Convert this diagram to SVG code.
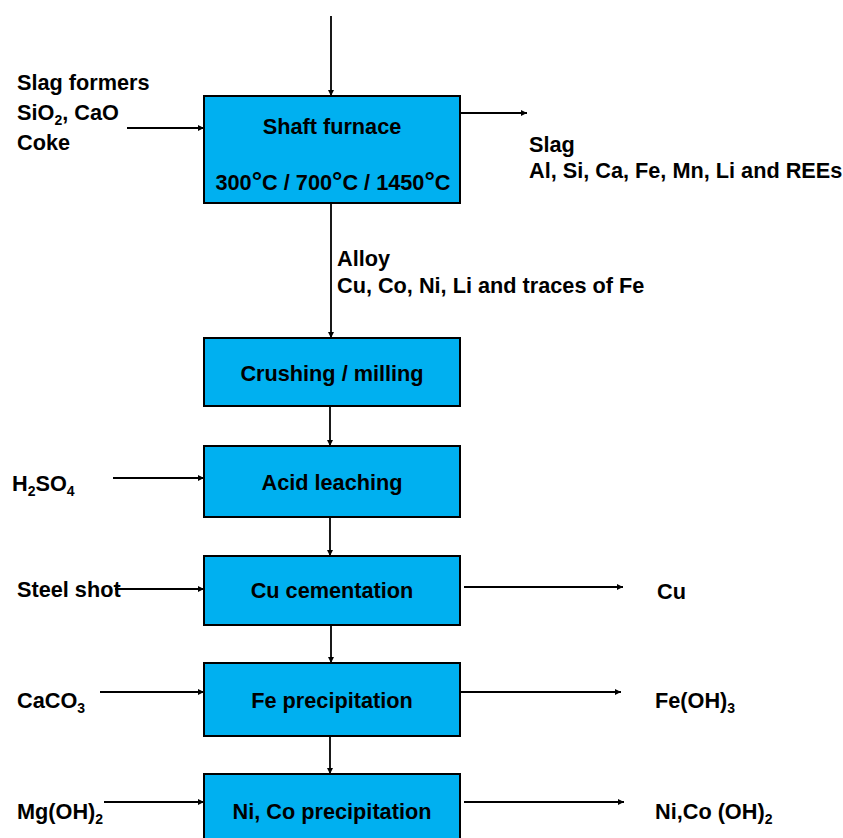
<svg xmlns="http://www.w3.org/2000/svg" width="843" height="838" viewBox="0 0 843 838">
<defs>
<marker id="ah" viewBox="0 0 10 10" refX="10" refY="5" markerWidth="9" markerHeight="6" markerUnits="userSpaceOnUse" orient="auto">
<path d="M0,0 L10,5 L0,10 z" fill="#000"/>
</marker>
<style>
text{font-family:"Liberation Sans",Arial,sans-serif;font-weight:bold;font-size:21.7px;fill:#000}
.c{text-anchor:middle}
.box{fill:#00B0F0;stroke:#000;stroke-width:2}
.ln{stroke:#000;stroke-width:1.8;fill:none;marker-end:url(#ah)}
.sub{font-size:14px}
.deg{font-size:26px}
</style>
</defs>
<rect width="843" height="838" fill="#fff"/>
<g id="connectors">
<line class="ln" x1="331" y1="16" x2="331" y2="96"/>
<line class="ln" x1="127" y1="128" x2="204" y2="128"/>
<line class="ln" x1="460" y1="113" x2="527" y2="113"/>
<line class="ln" x1="331" y1="203" x2="331" y2="338"/>
<line class="ln" x1="330" y1="406" x2="330" y2="446"/>
<line class="ln" x1="113" y1="478" x2="204" y2="478"/>
<line class="ln" x1="330" y1="517" x2="330" y2="556"/>
<line class="ln" x1="115" y1="589" x2="204" y2="589"/>
<line class="ln" x1="464" y1="587" x2="623" y2="587"/>
<line class="ln" x1="331" y1="625" x2="331" y2="663"/>
<line class="ln" x1="100" y1="692" x2="204" y2="692"/>
<line class="ln" x1="460" y1="692" x2="621" y2="692"/>
<line class="ln" x1="330" y1="736" x2="330" y2="774"/>
<line class="ln" x1="104" y1="802" x2="204" y2="802"/>
<line class="ln" x1="464" y1="802" x2="624" y2="802"/>
</g>
<g id="shaft-furnace">
<rect class="box" x="204" y="96" width="256" height="107"/>
<text class="c" x="332" y="134">Shaft furnace</text>
<text class="c" x="333" y="190">300<tspan class="deg">°</tspan>C / 700<tspan class="deg">°</tspan>C / 1450<tspan class="deg">°</tspan>C</text>
</g>
<g id="crushing">
<rect class="box" x="204" y="338" width="256" height="68"/>
<text class="c" x="332" y="381">Crushing / milling</text>
</g>
<g id="acid-leaching">
<rect class="box" x="204" y="446" width="256" height="71"/>
<text class="c" x="332" y="490">Acid leaching</text>
</g>
<g id="cu-cementation">
<rect class="box" x="204" y="556" width="256" height="69"/>
<text class="c" x="332" y="598">Cu cementation</text>
</g>
<g id="fe-precipitation">
<rect class="box" x="204" y="663" width="256" height="73"/>
<text class="c" x="332" y="708">Fe precipitation</text>
</g>
<g id="nico-precipitation">
<rect class="box" x="204" y="774" width="256" height="70"/>
<text class="c" x="332" y="819">Ni, Co precipitation</text>
</g>
<g id="labels">
<text x="17" y="90">Slag formers</text>
<text x="17" y="120">SiO<tspan class="sub" dy="5">2</tspan><tspan dy="-5">, CaO</tspan></text>
<text x="17" y="150">Coke</text>
<text x="529" y="152">Slag</text>
<text x="529" y="178">Al, Si, Ca, Fe, Mn, Li and REEs</text>
<text x="337" y="266">Alloy</text>
<text x="337" y="293">Cu, Co, Ni, Li and traces of Fe</text>
<text x="12" y="491">H<tspan class="sub" dy="5">2</tspan><tspan dy="-5">SO</tspan><tspan class="sub" dy="5">4</tspan></text>
<text x="17" y="597">Steel shot</text>
<text x="657" y="599">Cu</text>
<text x="17" y="708">CaCO<tspan class="sub" dy="5">3</tspan></text>
<text x="655" y="708">Fe(OH)<tspan class="sub" dy="5">3</tspan></text>
<text x="17" y="819">Mg(OH)<tspan class="sub" dy="5">2</tspan></text>
<text x="655" y="819">Ni,Co (OH)<tspan class="sub" dy="5">2</tspan></text>
</g>
</svg>
